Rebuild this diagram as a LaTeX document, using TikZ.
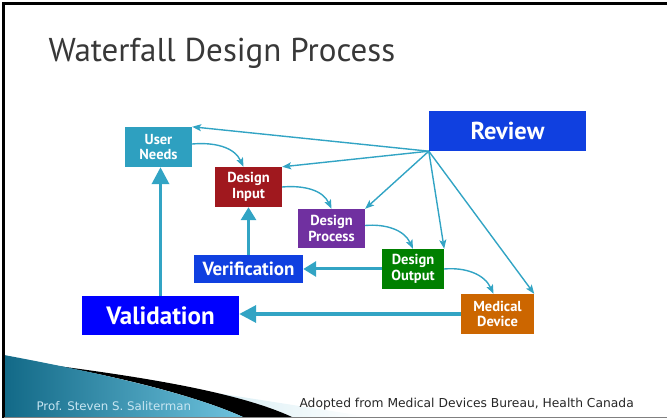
\documentclass[tikz,border=0pt]{standalone}
\usepackage{fontspec}
\setmainfont{PT Sans}
\newfontfamily\footfont{DejaVu Sans}
\usepackage{xcolor}
\usepackage{tikz}
\usetikzlibrary{arrows.meta,calc}
\definecolor{linkc}{RGB}{50,164,196}
\definecolor{needsc}{RGB}{46,160,192}
\definecolor{inputc}{RGB}{160,24,30}
\definecolor{processc}{RGB}{112,48,160}
\definecolor{outputc}{RGB}{0,128,0}
\definecolor{devicec}{RGB}{204,102,0}
\definecolor{reviewc}{RGB}{16,64,224}
\definecolor{validc}{RGB}{0,0,255}
\definecolor{titlec}{RGB}{56,56,56}
\tikzset{>={Stealth[length=9pt,width=7pt,inset=2pt]}}
\tikzset{
  stage/.style={rectangle,inner sep=0pt,text=white,align=center,font=\bfseries\fontsize{14.5}{15.5}\selectfont,minimum width=67pt,minimum height=40pt},
  check/.style={rectangle,inner sep=0pt,text=white,align=center,font=\bfseries},
  link/.style={->,draw=linkc,line width=1.4pt},
  bigarrow/.style={draw=linkc,line width=3.5pt,-{Triangle[length=17pt,width=17pt]}},
  midarrow/.style={draw=linkc,line width=3pt,-{Triangle[length=13pt,width=15pt]}}
}
\begin{document}
\begin{tikzpicture}[x=1pt,y=1pt]
  \useasboundingbox (0,0) rectangle (667,418);
  \shade[left color=linkc!30,right color=white] (120,40) -- (370,1) -- (292,1) -- cycle;
  \fill[black] (50,53) .. controls (150,40) and (240,25) .. (292,1) -- (243,1) .. controls (190,25) and (100,45) .. (50,53) -- cycle;
  \shade[left color={rgb,255:red,18;green,105;blue,135},right color={rgb,255:red,110;green,195;blue,222}] (4,63) .. controls (100,45) and (190,25) .. (243,1) -- (4,1) -- cycle;
  \draw[line width=3pt] (3.5,0) -- (3.5,414.5) -- (667,414.5);
  \draw[gray,line width=1pt] (4,1) -- (667,1);
  \node[anchor=base west,text=titlec,font=\fontsize{33}{36}\selectfont] (Title) at (45,356) {Waterfall Design Process};
  \node[stage,fill=needsc] (UserNeeds) at (158.5,271) {User\\Needs};
  \node[stage,fill=inputc] (DesignInput) at (248.5,231) {Design\\Input};
  \node[stage,fill=processc,minimum height=39pt] (DesignProcess) at (331.5,189.5) {Design\\Process};
  \node[stage,fill=outputc,minimum width=62pt] (DesignOutput) at (413,149) {Design\\Output};
  \node[stage,fill=devicec,minimum width=73pt] (MedicalDevice) at (497.5,104) {Medical\\Device};
  \node[check,fill=reviewc,minimum width=157pt,minimum height=40pt,font=\bfseries\fontsize{24.5}{26}\selectfont] (Review) at (507.5,287) {Review};
  \node[check,fill=reviewc,minimum width=109pt,minimum height=28pt,font=\bfseries\fontsize{19}{21}\selectfont] (Verification) at (248.5,149) {Verification};
  \node[check,fill=validc,minimum width=157pt,minimum height=39pt,font=\bfseries\fontsize{25}{27}\selectfont] (Validation) at (160.5,102.5) {Validation};
  \node[anchor=base west,text={rgb,255:red,200;green,230;blue,242},font=\footfont\fontsize{11.8}{13}\selectfont] (Author) at (33,8) {Prof. Steven S. Saliterman};
  \node[anchor=base west,text=black!85,font=\footfont\fontsize{12.3}{14}\selectfont] (Source) at (296,11) {Adopted from Medical Devices Bureau, Health Canada};
  \draw[link] (Review.south west) -- (UserNeeds.north east);
  \draw[link] (Review.south west) -- (DesignInput.north east);
  \draw[link] (Review.south west) -- (DesignProcess.north east);
  \draw[link] (Review.south west) -- (DesignOutput.north east);
  \draw[link] (Review.south west) -- (MedicalDevice.north east);
  \draw[link] ([yshift=3pt]UserNeeds.east) to[out=5,in=115] ([xshift=-5pt]DesignInput.north);
  \draw[link] (DesignInput.east) to[out=5,in=115] (DesignProcess.north);
  \draw[link] ([yshift=3pt]DesignProcess.east) to[out=5,in=115] (DesignOutput.north);
  \draw[link] (DesignOutput.east) to[out=5,in=115] ([xshift=-4pt]MedicalDevice.north);
  \draw[bigarrow] (Validation.north) -- (Validation.north |- UserNeeds.south);
  \draw[midarrow] (Verification.north) -- (DesignInput.south);
  \draw[midarrow] (DesignOutput.west) -- (Verification.east);
  \draw[bigarrow] (MedicalDevice.west) -- (MedicalDevice.west -| Validation.east);
\end{tikzpicture}
\end{document}
